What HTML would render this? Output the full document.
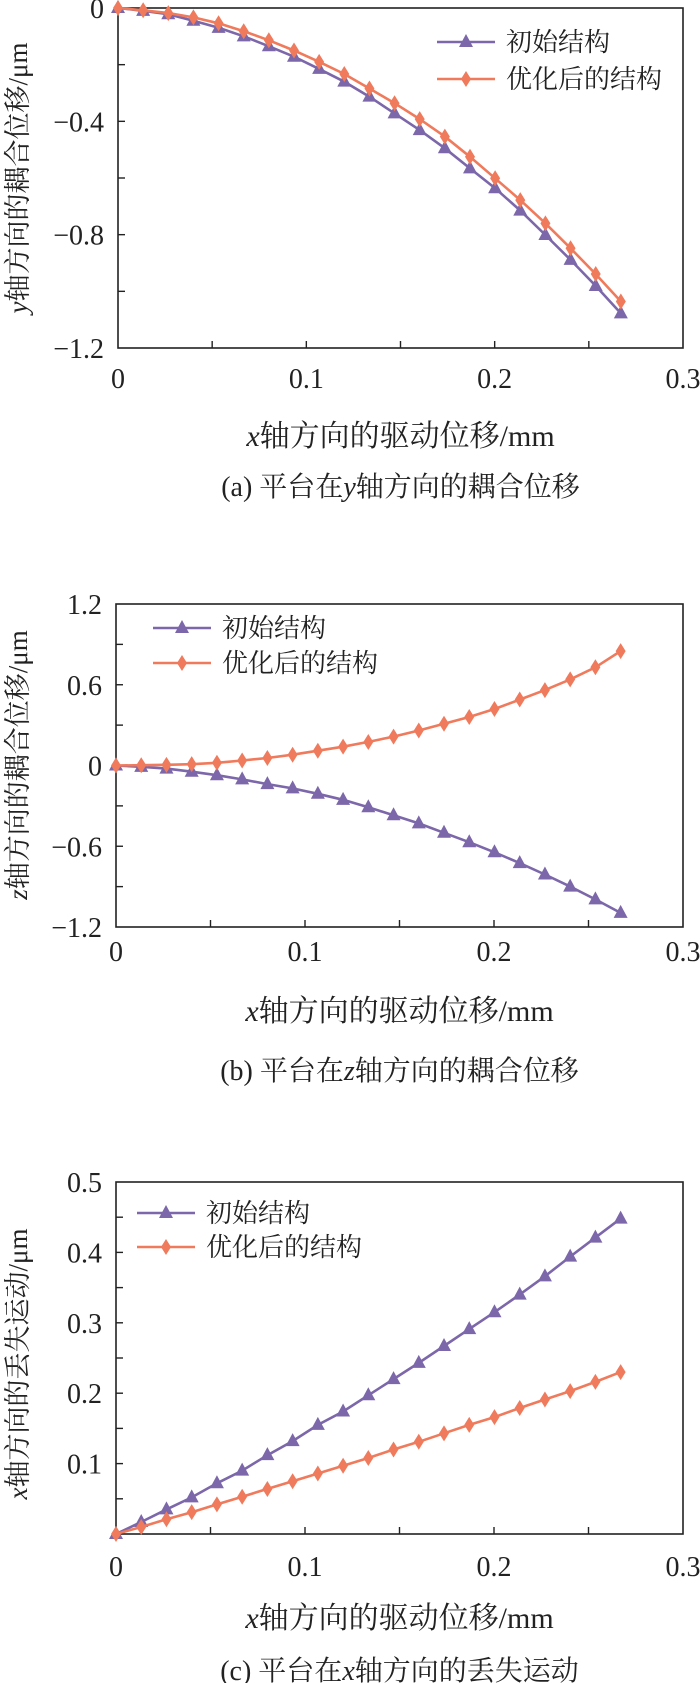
<!DOCTYPE html>
<html><head><meta charset="utf-8"><style>
body{margin:0;background:#fff;}
svg{display:block;font-family:"Liberation Serif","Noto Serif CJK SC",serif;}
</style></head><body>
<svg id="s" width="700" height="1683" viewBox="0 0 700 1683"></svg>
<script>
const xValues=[0,0.01335,0.0267,0.04005,0.0534,0.06675,0.0801,0.09345,0.1068,0.12015,0.1335,0.14685,0.1602,0.17355,0.1869,0.20025,0.2136,0.22695,0.2403,0.25365,0.267];
const xTicks=[0,0.1,0.2,0.3];
const aInitial=[0,-0.01,-0.022,-0.045,-0.07,-0.1,-0.135,-0.172,-0.215,-0.26,-0.313,-0.372,-0.431,-0.495,-0.566,-0.636,-0.715,-0.801,-0.889,-0.981,-1.078];
const aOptimized=[0,-0.008,-0.018,-0.033,-0.054,-0.082,-0.114,-0.15,-0.19,-0.233,-0.284,-0.336,-0.392,-0.454,-0.525,-0.601,-0.678,-0.76,-0.848,-0.939,-1.036];
const aTicks=[0,-0.4,-0.8,-1.2];
const bInitial=[0,-0.01,-0.023,-0.046,-0.072,-0.103,-0.138,-0.17,-0.21,-0.255,-0.31,-0.37,-0.43,-0.5,-0.57,-0.645,-0.725,-0.81,-0.9,-0.995,-1.095];
const bOptimized=[0,0.002,0.005,0.01,0.02,0.037,0.056,0.08,0.11,0.14,0.175,0.215,0.26,0.31,0.36,0.42,0.49,0.56,0.64,0.73,0.85];
const bTicks=[1.2,0.6,0,-0.6,-1.2];
const cInitial=[0,0.017,0.035,0.052,0.072,0.09,0.112,0.132,0.155,0.174,0.197,0.22,0.243,0.267,0.291,0.315,0.34,0.366,0.394,0.421,0.448];
const cOptimized=[0,0.01,0.021,0.031,0.042,0.053,0.064,0.075,0.086,0.097,0.108,0.12,0.131,0.143,0.155,0.166,0.179,0.191,0.203,0.216,0.23];
const cTicks=[0.5,0.4,0.3,0.2,0.1];
const legendLabels=["初始结构","优化后的结构"];

const NS="http://www.w3.org/2000/svg";
const svg=document.getElementById('s');
const PURPLE="#7b67a9", ORANGE="#ef7a5c";
function mk(tag,attrs,parent){const e=document.createElementNS(NS,tag);for(const k in attrs)e.setAttribute(k,attrs[k]);(parent||svg).appendChild(e);return e;}
function fmt(v){let s=String(v);if(v<0)s="\u2212"+String(-v);return s;}
function drawChart(p,ini,opt,yTicks,minorStep){
  const g=mk('g',{});
  
  
  const L=p.left,R=p.right,T=p.top,B=p.bottom;
  const xs=v=>L+(v-0)/(0.3)*(R-L);
  const ys=v=>T+(p.ymax-v)/(p.ymax-p.ymin)*(B-T);
  const frame=mk('rect',{x:L,y:T,width:R-L,height:B-T,fill:'none',stroke:'#222','stroke-width':1.6},g);
  
  
  for(let v=0.05;v<0.3;v+=0.05){const x=xs(v);const t=mk('line',{x1:x,x2:x,y1:B,y2:B-7,stroke:'#222','stroke-width':1.4},g);}
  for(let v=p.ymin+minorStep;v<p.ymax-1e-9;v+=minorStep){const y=ys(v);const t=mk('line',{x1:L,x2:L+7,y1:y,y2:y,stroke:'#222','stroke-width':1.4},g);}
  xTicks.forEach(v=>{const t=mk('text',{x:xs(v),y:p.xLabelY,'text-anchor':'middle','font-size':28,fill:'#222'},g);t.textContent=String(v);});
  yTicks.forEach(v=>{const t=mk('text',{x:L-14,y:ys(v)+10,'text-anchor':'end','font-size':28,fill:'#222'},g);t.textContent=fmt(v);});
  const series=[[ini,PURPLE,'tri','initial-structure-series'],[opt,ORANGE,'dia','optimized-structure-series']];
  series.forEach(([d,c,m,nm])=>{
    const sg=mk('g',{},g);
    
    
    const pts=d.map((v,i)=>xs(xValues[i]).toFixed(1)+','+ys(v).toFixed(1)).join(' ');
    const pl=mk('polyline',{points:pts,fill:'none',stroke:c,'stroke-width':2.6},sg);
    
    
    d.forEach((v,i)=>{const x=xs(xValues[i]),y=ys(v);let mp;
      if(m==='tri')mp=mk('polygon',{points:`${x},${y-8} ${x-7},${y+5} ${x+7},${y+5}`,fill:c},sg);
      else mp=mk('polygon',{points:`${x},${y-8} ${x-5},${y} ${x},${y+8} ${x+5},${y}`,fill:c},sg);
      
      });
  });
  [[PURPLE,'tri',p.leg[1]],[ORANGE,'dia',p.leg[2]]].forEach(([c,m,y],i)=>{
    const lg=mk('g',{},g);
    
    
    const x1=p.leg[0],x2=p.leg[0]+58,xm=(x1+x2)/2;
    mk('line',{x1:x1,x2:x2,y1:y,y2:y,stroke:c,'stroke-width':2.6},lg);
    if(m==='tri')mk('polygon',{points:`${xm},${y-8} ${xm-7},${y+5} ${xm+7},${y+5}`,fill:c},lg);
    else mk('polygon',{points:`${xm},${y-8} ${xm-5},${y} ${xm},${y+8} ${xm+5},${y}`,fill:c},lg);
    const t=mk('text',{x:x2+11,y:y+9,'font-size':26,fill:'#222'},lg);t.textContent=legendLabels[i];
  });
  const xt=mk('text',{x:(L+R)/2,y:p.xTitleY,'text-anchor':'middle','font-size':30,fill:'#222'},g);
  xt.innerHTML='<tspan font-style="italic">x</tspan>轴方向的驱动位移/mm';
  
  const yt=mk('text',{x:0,y:0,'text-anchor':'middle','font-size':27,fill:'#222',transform:`translate(27,${p.yTitleY}) rotate(-90)`},g);
  yt.innerHTML='<tspan font-style="italic">'+p.yVar+'</tspan>'+p.yTitle;
  
  const cap=mk('text',{x:(L+R)/2,y:p.capY,'text-anchor':'middle','font-size':28,fill:'#222'},g);
  cap.innerHTML=p.cap;
  
}
drawChart({name:'chart-a',left:118,right:683,top:8,bottom:348,ymax:0,ymin:-1.2,xLabelY:388,xTitleY:446,capY:496,yTitleY:178,yVar:'y',yTitle:'轴方向的耦合位移/μm',leg:[437,42,79],cap:'(a) 平台在<tspan font-style="italic">y</tspan>轴方向的耦合位移'},aInitial,aOptimized,aTicks,0.2);
drawChart({name:'chart-b',left:116,right:683,top:604,bottom:927,ymax:1.2,ymin:-1.2,xLabelY:961,xTitleY:1021,capY:1080,yTitleY:765,yVar:'z',yTitle:'轴方向的耦合位移/μm',leg:[153,628,663],cap:'(b) 平台在<tspan font-style="italic">z</tspan>轴方向的耦合位移'},bInitial,bOptimized,bTicks,0.3);
drawChart({name:'chart-c',left:116,right:683,top:1182,bottom:1534,ymax:0.5,ymin:0,xLabelY:1576,xTitleY:1628,capY:1680,yTitleY:1364,yVar:'x',yTitle:'轴方向的丢失运动/μm',leg:[137,1213,1247],cap:'(c) 平台在<tspan font-style="italic">x</tspan>轴方向的丢失运动'},cInitial,cOptimized,cTicks,0.05);
</script>
</body></html>
